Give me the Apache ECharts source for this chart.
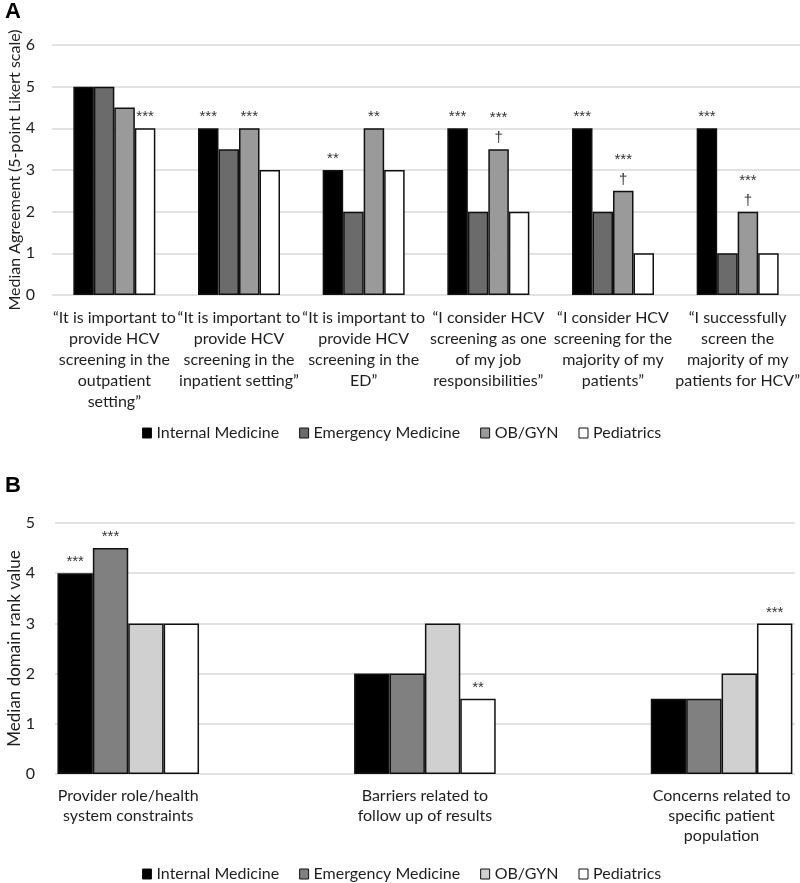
<!DOCTYPE html>
<html>
<head>
<meta charset="utf-8">
<script src="https://cdn.jsdelivr.net/npm/echarts@6/dist/echarts.min.js"></script>
<style>html,body{margin:0;padding:0;background:#fff}#c{width:800px;height:883px}</style>
</head>
<body>
<div id="c"></div>
<script>
// ---- Panel A data ----
const categoriesA = [
  '\u201cIt is important to\nprovide HCV\nscreening in the\noutpatient\nsetting\u201d',
  '\u201cIt is important to\nprovide HCV\nscreening in the\ninpatient setting\u201d',
  '\u201cIt is important to\nprovide HCV\nscreening in the\nED\u201d',
  '\u201cI consider HCV\nscreening as one\nof my job\nresponsibilities\u201d',
  '\u201cI consider HCV\nscreening for the\nmajority of my\npatients\u201d',
  '\u201cI successfully\nscreen the\nmajority of my\npatients for HCV\u201d'
];
const seriesNames = ['Internal Medicine', 'Emergency Medicine', 'OB/GYN', 'Pediatrics'];
const imA  = [5, 4, 3, 4, 4, 4];
const emA  = [5, 3.5, 2, 2, 2, 1];
const obA  = [4.5, 4, 4, 3.5, 2.5, 2];
const pedA = [4, 3, 3, 2, 1, 1];
const sigImA  = ['', '***', '**', '***', '***', '***'];
const sigEmA  = ['', '', '', '', '', ''];
const sigObA  = ['', '***', '**', '***\n\u2020', '***\n\u2020', '***\n\u2020'];
const sigPedA = ['***', '', '', '', '', ''];
const yTicksA = [0, 1, 2, 3, 4, 5, 6];

// ---- Panel B data ----
const categoriesB = [
  'Provider role/health\nsystem constraints',
  'Barriers related to\nfollow up of results',
  'Concerns related to\nspecific patient\npopulation'
];
const imB  = [4, 2, 1.5];
const emB  = [4.5, 2, 1.5];
const obB  = [3, 3, 2];
const pedB = [3, 1.5, 3];
const sigImB  = ['***', '', ''];
const sigEmB  = ['***', '', ''];
const sigObB  = ['', '', ''];
const sigPedB = ['', '**', '***'];
const yTicksB = [0, 1, 2, 3, 4, 5];

const colorsA = ['#000000', '#6b6b6b', '#9a9a9a', '#ffffff'];
const colorsB = ['#000000', '#808080', '#d0d0d0', '#ffffff'];
const FONT = 'Lato, "Open Sans", sans-serif';
const TXT = '#1e1e1e';

function mkSeries(name, data, sig, color, xi, yi, bw) {
  return {
    type: 'bar', name: name, data: data,
    xAxisIndex: xi, yAxisIndex: yi,
    barWidth: bw, barGap: '0%',
    itemStyle: { color: color, borderColor: '#111', borderWidth: 1.5 },
    emphasis: { disabled: true },
    label: {
      show: true, position: 'top', distance: 1,
      formatter: p => sig[p.dataIndex],
      fontFamily: '"Liberation Sans", Arial, sans-serif', fontSize: 15, color: '#333', lineHeight: 20
    }
  };
}

const gridLine = { show: true, lineStyle: { color: '#d9d9d9', width: 1.5 } };
const legendText = { fontFamily: FONT, fontSize: 16, color: TXT };

const chart = echarts.init(document.getElementById('c'), null, { renderer: 'canvas' });
chart.setOption({
  animation: false,
  backgroundColor: '#fff',
  title: [
    { text: 'A', left: 0, top: -4, textStyle: { fontFamily: '"Liberation Sans", Arial, sans-serif', fontWeight: 'bold', fontSize: 22, color: '#000' } },
    { text: 'B', left: 0, top: 470, textStyle: { fontFamily: '"Liberation Sans", Arial, sans-serif', fontWeight: 'bold', fontSize: 22, color: '#000' } }
  ],
  grid: [
    { left: 52, top: 45, width: 748, height: 250, containLabel: false, outerBoundsMode: 'none' },
    { left: 55, top: 523, width: 740, height: 251, containLabel: false, outerBoundsMode: 'none' },
    { left: -20.1, top: 523, width: 890, height: 251, containLabel: false, outerBoundsMode: 'none' }
  ],
  legend: [
    {
      top: 420, left: 137, icon: 'rect', itemWidth: 9, itemHeight: 10, itemGap: 20,
      textStyle: legendText, selectedMode: false,
      data: seriesNames.map((n, i) => ({ name: n, itemStyle: { color: colorsA[i], borderColor: '#111', borderWidth: 1 } }))
    },
    {
      top: 861, left: 137, icon: 'rect', itemWidth: 9, itemHeight: 10, itemGap: 20,
      textStyle: legendText, selectedMode: false,
      data: seriesNames.map((n, i) => ({ name: n, itemStyle: { color: colorsB[i], borderColor: '#111', borderWidth: 1 } }))
    }
  ],
  xAxis: [
    {
      gridIndex: 0, type: 'category', data: categoriesA,
      axisLine: { show: false }, axisTick: { show: false },
      axisLabel: { interval: 0, margin: 12, fontFamily: FONT, fontSize: 16, lineHeight: 21, color: TXT, align: 'center' }
    },
    { gridIndex: 1, type: 'category', data: [''], show: false },
    {
      gridIndex: 2, type: 'category', data: categoriesB,
      axisLine: { show: false }, axisTick: { show: false },
      axisLabel: { interval: 0, margin: 12, fontFamily: FONT, fontSize: 16, lineHeight: 20, color: TXT, align: 'center' }
    }
  ],
  yAxis: [
    {
      gridIndex: 0, type: 'value', min: yTicksA[0], max: yTicksA[yTicksA.length - 1], interval: 1,
      name: 'Median Agreement (5-point Likert scale)', nameLocation: 'middle', nameGap: 29, nameRotate: 90,
      nameMoveOverlap: false,
      nameTextStyle: { fontFamily: FONT, fontSize: 16, color: TXT },
      axisLine: { show: false }, axisTick: { show: false },
      axisLabel: { margin: 17, fontFamily: FONT, fontSize: 16, color: TXT },
      splitLine: gridLine
    },
    {
      gridIndex: 1, type: 'value', min: yTicksB[0], max: yTicksB[yTicksB.length - 1], interval: 1,
      name: 'Median domain rank value', nameLocation: 'middle', nameGap: 32, nameRotate: 90,
      nameMoveOverlap: false,
      nameTextStyle: { fontFamily: FONT, fontSize: 17, color: TXT },
      axisLine: { show: false }, axisTick: { show: false },
      axisLabel: { margin: 20, fontFamily: FONT, fontSize: 16, color: TXT },
      splitLine: gridLine
    },
    {
      gridIndex: 2, type: 'value', min: yTicksB[0], max: yTicksB[yTicksB.length - 1], interval: 1,
      show: false, splitLine: { show: false }
    }
  ],
  series: [
    mkSeries(seriesNames[0], imA, sigImA, colorsA[0], 0, 0, 20.5),
    mkSeries(seriesNames[1], emA, sigEmA, colorsA[1], 0, 0, 20.5),
    mkSeries(seriesNames[2], obA, sigObA, colorsA[2], 0, 0, 20.5),
    mkSeries(seriesNames[3], pedA, sigPedA, colorsA[3], 0, 0, 20.5),
    mkSeries(seriesNames[0], imB, sigImB, colorsB[0], 2, 2, 35.4),
    mkSeries(seriesNames[1], emB, sigEmB, colorsB[1], 2, 2, 35.4),
    mkSeries(seriesNames[2], obB, sigObB, colorsB[2], 2, 2, 35.4),
    mkSeries(seriesNames[3], pedB, sigPedB, colorsB[3], 2, 2, 35.4)
  ]
});
</script>
</body>
</html>
